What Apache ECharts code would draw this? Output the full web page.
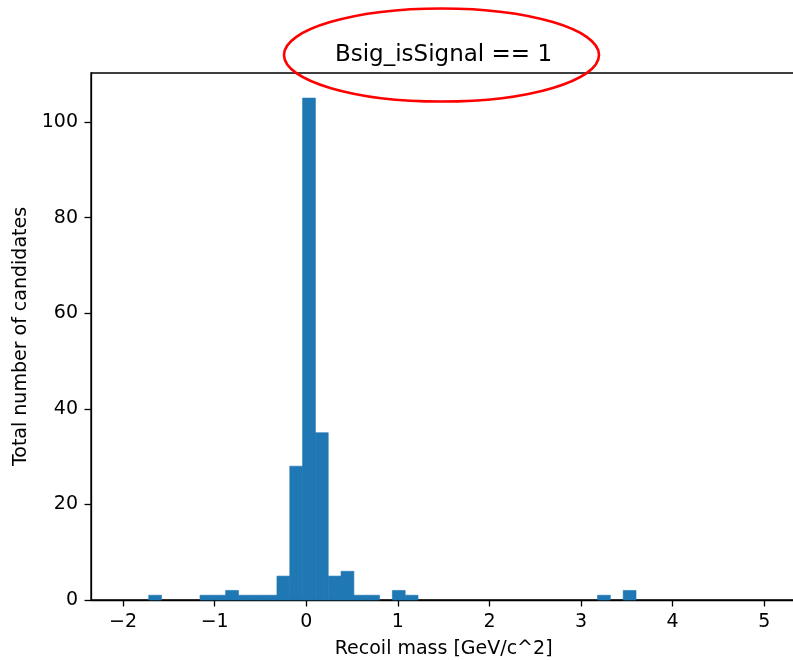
<!DOCTYPE html>
<html>
<head>
<meta charset="utf-8">
<script src="https://cdn.jsdelivr.net/npm/echarts@6/dist/echarts.min.js"></script>
<style>
html,body{margin:0;padding:0;background:#fff;}
#chart{width:793px;height:660px;}
</style>
</head>
<body>
<div id="chart"></div>
<script>
const titleText = 'Bsig_isSignal == 1';
const xLabel = 'Recoil mass [GeV/c^2]';
const yLabel = 'Total number of candidates';
const xTickValues = [-2, -1, 0, 1, 2, 3, 4, 5];
const yTickValues = [0, 20, 40, 60, 80, 100];
const binEdges = [-2.00, -1.86, -1.72, -1.58, -1.44, -1.30, -1.16, -1.02, -0.88, -0.74,
  -0.60, -0.46, -0.32, -0.18, -0.04, 0.10, 0.24, 0.38, 0.52, 0.66,
  0.80, 0.94, 1.08, 1.22, 1.36, 1.50, 1.64, 1.78, 1.92, 2.06,
  2.20, 2.34, 2.48, 2.62, 2.76, 2.90, 3.04, 3.18, 3.32, 3.46,
  3.60, 3.74, 3.88, 4.02, 4.16, 4.30, 4.44, 4.58, 4.72, 4.86, 5.00];
const counts = [0, 0, 1, 0, 0, 0, 1, 1, 2, 1,
  1, 1, 5, 28, 105, 35, 5, 6, 1, 1,
  0, 2, 1, 0, 0, 0, 0, 0, 0, 0,
  0, 0, 0, 0, 0, 0, 0, 1, 0, 2,
  0, 0, 0, 0, 0, 0, 0, 0, 0, 0];

const FONT = 'DejaVu Sans';
const barData = counts.map((c, i) => [binEdges[i], binEdges[i + 1], c]);
const fmt = v => String(v).replace('-', '\u2212');

const chart = echarts.init(document.getElementById('chart'), null, {renderer: 'canvas'});
chart.setOption({
  animation: false,
  backgroundColor: '#ffffff',
  grid: {
    left: 91, top: 73, right: -3.3, bottom: 60,
    show: true, borderColor: '#000000', borderWidth: 1.3,
    backgroundColor: 'transparent',
    containLabel: false, outerBoundsMode: 'none'
  },
  xAxis: {
    type: 'value', min: -2.35, max: 5.35,
    splitLine: {show: false},
    axisLine: {show: true, onZero: false, lineStyle: {color: '#000', width: 1.3}},
    axisTick: {show: true, length: 6.5, inside: false, customValues: xTickValues,
      lineStyle: {color: '#000', width: 1.3}},
    axisLabel: {show: true, customValues: xTickValues, margin: 13, formatter: fmt,
      color: '#000', fontFamily: FONT, fontSize: 19, lineHeight: 19},
    name: xLabel, nameLocation: 'middle', nameGap: 40,
    nameTextStyle: {color: '#000', fontFamily: FONT, fontSize: 19, lineHeight: 19}
  },
  yAxis: {
    type: 'value', min: 0, max: 110.25,
    splitLine: {show: false},
    axisLine: {show: true, onZero: false, lineStyle: {color: '#000', width: 1.3}},
    axisTick: {show: true, length: 6.5, inside: false, customValues: yTickValues,
      lineStyle: {color: '#000', width: 1.3}},
    axisLabel: {show: true, customValues: yTickValues, margin: 13, formatter: fmt,
      padding: [3, 0, 0, 0],
      color: '#000', fontFamily: FONT, fontSize: 19, lineHeight: 19},
    name: yLabel, nameLocation: 'middle', nameGap: 59, nameRotate: 90,
    nameTextStyle: {color: '#000', fontFamily: FONT, fontSize: 19, lineHeight: 19}
  },
  series: [{
    type: 'custom',
    data: barData,
    encode: {x: [0, 1], y: 2},
    renderItem: function (params, api) {
      const c = api.value(2);
      if (!c) return null;
      const p0 = api.coord([api.value(0), c]);
      const p1 = api.coord([api.value(1), 0]);
      return {
        type: 'rect',
        shape: {x: p0[0], y: p0[1], width: p1[0] - p0[0], height: p1[1] - p0[1]},
        style: {fill: '#1f77b4', stroke: '#1f77b4', lineWidth: 0.6}
      };
    }
  }],
  graphic: [
    {
      type: 'text', x: 443.5, y: 55.5, z: 10,
      style: {text: titleText, fill: '#000', font: '23px "DejaVu Sans"',
        textAlign: 'center', textVerticalAlign: 'middle', verticalAlign: 'middle'}
    },
    {
      type: 'ellipse', z: 11,
      shape: {cx: 441.5, cy: 55, rx: 157.5, ry: 46.5},
      style: {fill: 'none', stroke: '#ff0000', lineWidth: 2.6}
    }
  ]
});
</script>
</body>
</html>
